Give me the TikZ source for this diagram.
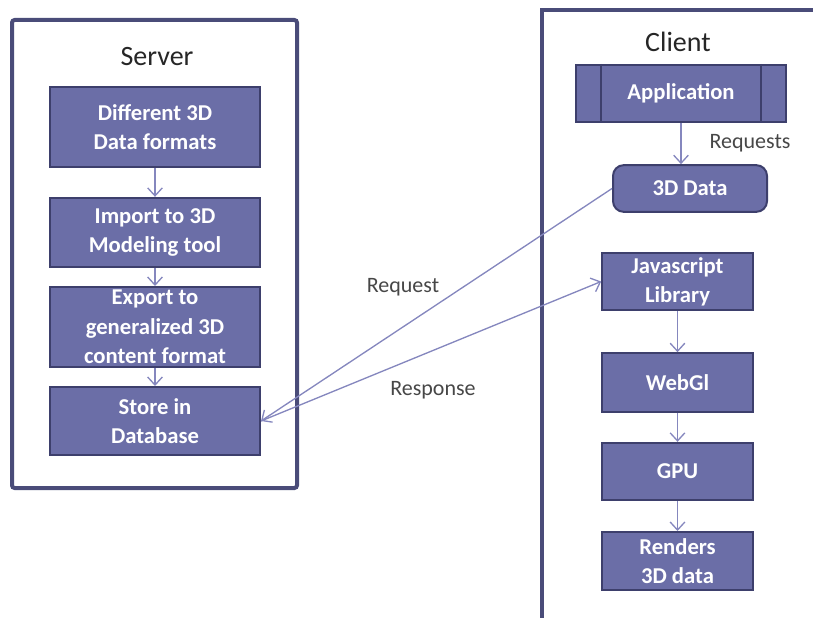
\documentclass[tikz,border=0pt]{standalone}
\usepackage{fontspec}
\setmainfont{Carlito}
\usepackage{tikz}
\usetikzlibrary{arrows.meta,positioning,calc}
\definecolor{FlowFill}{HTML}{6B6EA7}
\definecolor{FlowLine}{HTML}{3D3F6C}
\definecolor{FlowFrame}{HTML}{4A4C79}
\definecolor{FlowArrow}{HTML}{8587BE}
\definecolor{FlowText}{HTML}{262626}

\begin{document}
\begin{tikzpicture}[x=0.75pt,y=-0.75pt,
  stage/.style={draw=FlowLine,line width=1.5pt,fill=FlowFill,text=white,align=center,
    font=\fontsize{17}{22}\selectfont\bfseries,inner sep=2pt},
  frame/.style={draw=FlowFrame,line width=3pt},
  title/.style={font=\fontsize{21}{25}\selectfont,text=FlowText},
  note/.style={font=\fontsize{16.5}{20}\selectfont,text=FlowText!85},
  arr/.style={-{Straight Barb[length=6pt,width=11pt]},FlowArrow,line width=1pt},
]
\useasboundingbox (0,0) rectangle (813,617);

% server side
\draw[frame,rounded corners=2pt] (12,20) rectangle (297,488);
\node[title] (srv) at (157,57) {Server};
\node[stage,minimum width=157.5pt,minimum height=60pt] (fmt) at (155,127) {Different 3D\\Data formats};
\node[stage,minimum width=157.5pt,minimum height=52pt] (imp) at (155,232.5) {Import to 3D\\Modeling tool};
\node[stage,minimum width=157.5pt,minimum height=60pt] (exp) at (155,327) {Export to\\generalized 3D\\content format};
\node[stage,minimum width=157.5pt,minimum height=51pt] (store) at (155,421) {Store in\\Database};
\draw[arr] (fmt) -- (imp);
\draw[arr] (imp) -- (exp);
\draw[arr] (exp) -- (store);

% client side, frame runs off the page
\draw[frame] (542,620) -- (542,10) -- (816,10);
\node[title] (cli) at (678,42) {Client};
\node[stage,minimum width=158pt,minimum height=43pt] (app) at (681,93.5) {Application};
\draw[FlowLine,line width=1.5pt] ($(app.north west)+(26,0)$) -- ($(app.south west)+(26,0)$);
\draw[FlowLine,line width=1.5pt] ($(app.north east)+(-26,0)$) -- ($(app.south east)+(-26,0)$);
\node[stage,rounded corners=8pt,minimum width=115.5pt,minimum height=35pt] (data) at (690,188.5) {3D Data};
\node[stage,minimum width=113pt,minimum height=43pt] (js) at (677.5,281.5) {Javascript\\Library};
\node[stage,minimum width=113pt,minimum height=44pt] (webgl) at (677.5,382.5) {WebGl};
\node[stage,minimum width=113pt,minimum height=43pt] (gpu) at (677.5,471.5) {GPU};
\node[stage,minimum width=113pt,minimum height=43.5pt] (render) at (677.5,561) {Renders\\3D data};
\draw[arr] (app.south) -- (app.south |- data.north);
\node[note] (reqs) at (750,143) {Requests};
\draw[arr] (js) -- (webgl);
\draw[arr] (webgl) -- (gpu);
\draw[arr] (gpu) -- (render);

% traffic between the two sides
\draw[arr] (data.west) -- (store.east);
\draw[arr] (store.east) -- (js.west);
\node[note] (req) at (403,287) {Request};
\node[note] (resp) at (433,390) {Response};
\end{tikzpicture}
\end{document}
